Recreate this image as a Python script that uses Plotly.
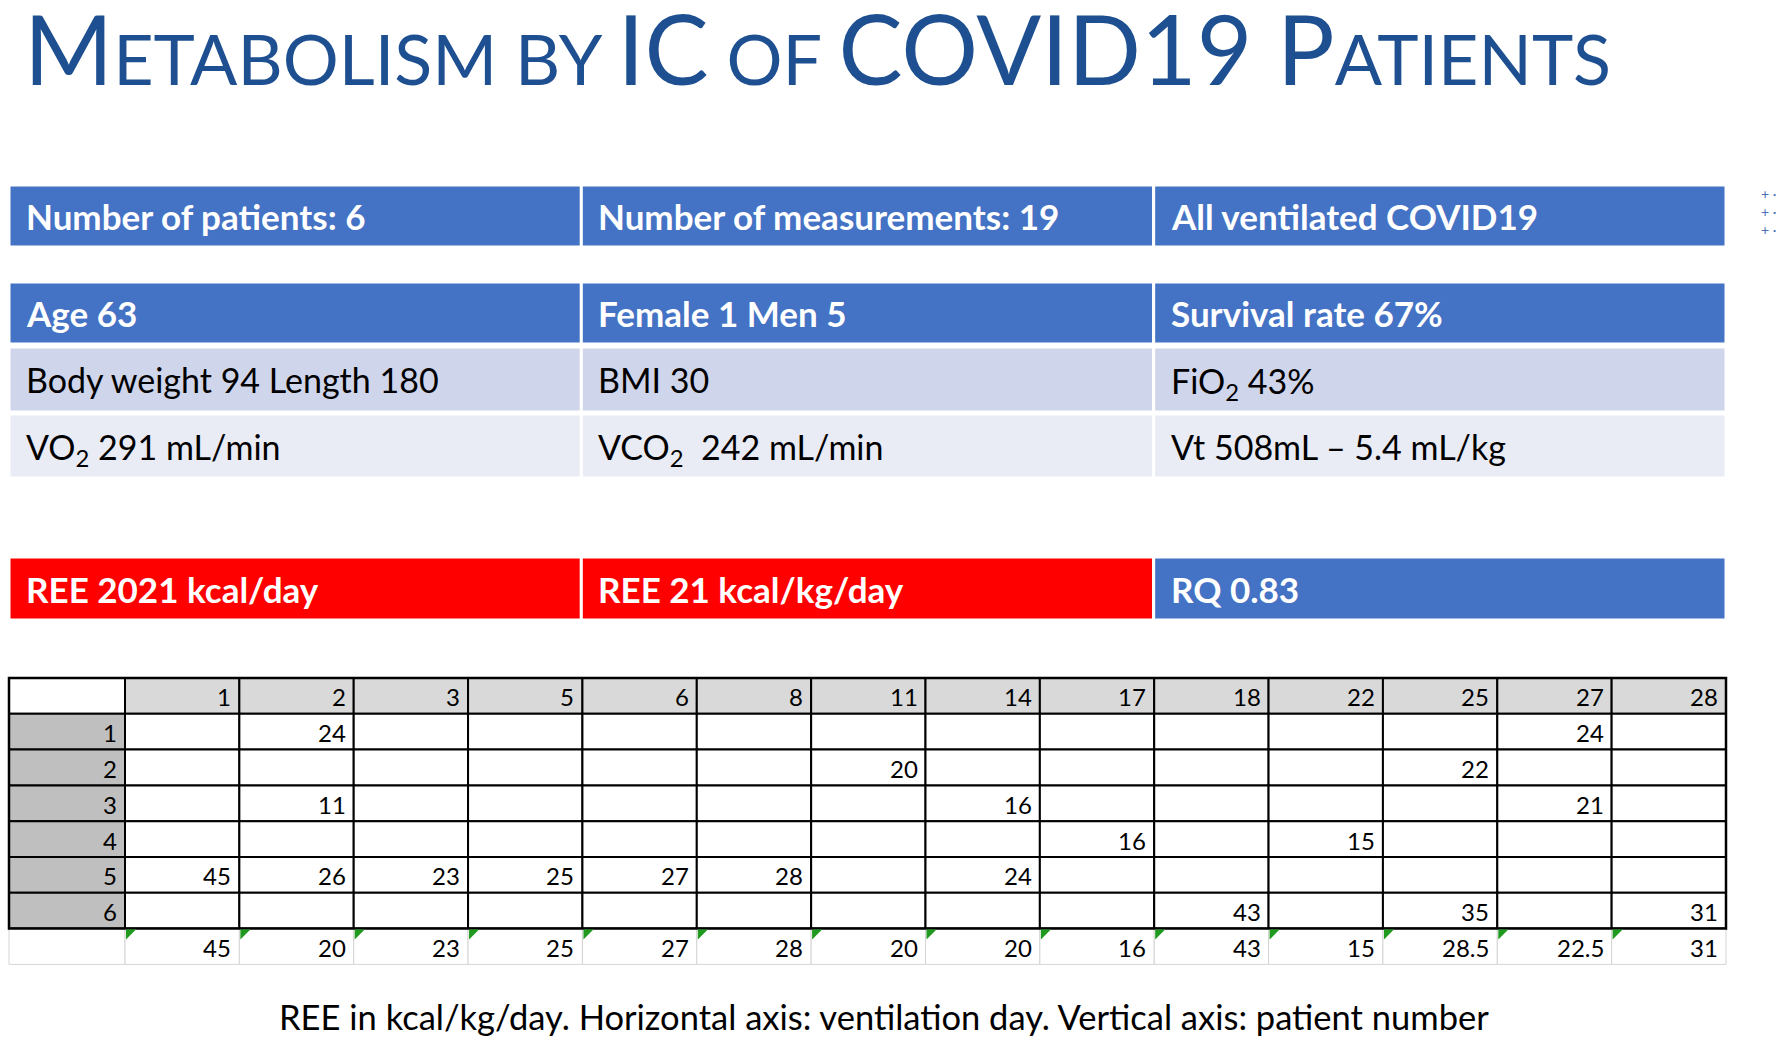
import plotly.graph_objects as go

# ---------------- data ----------------
title_parts = [("M", "big"), ("ETABOLISM BY ", "small"), ("IC", "big"), (" OF ", "small"),
               ("COVID19 ", "big"), ("P", "big"), ("ATIENTS", "small")]

info_row1 = ["Number of patients: 6", "Number of measurements: 19", "All ventilated COVID19"]
info_row2 = ["Age 63", "Female 1 Men 5", "Survival rate 67%"]
info_row3 = ["Body weight 94 Length 180", "BMI 30", "FiO<sub>2</sub> 43%"]
info_row4 = ["VO<sub>2</sub> 291 mL/min", "VCO<sub>2</sub>\u00a0 242 mL/min", "Vt 508mL \u2013 5.4 mL/kg"]
ree_row = ["REE 2021 kcal/day", "REE 21 kcal/kg/day", "RQ 0.83"]
ree_fill = ["#FF0000", "#FF0000", "#4472C4"]

days = [1, 2, 3, 5, 6, 8, 11, 14, 17, 18, 22, 25, 27, 28]
patients = [1, 2, 3, 4, 5, 6]
ree_p1 = [None, 24, None, None, None, None, None, None, None, None, None, None, 24, None]
ree_p2 = [None, None, None, None, None, None, 20, None, None, None, None, 22, None, None]
ree_p3 = [None, 11, None, None, None, None, None, 16, None, None, None, None, 21, None]
ree_p4 = [None, None, None, None, None, None, None, None, 16, None, 15, None, None, None]
ree_p5 = [45, 26, 23, 25, 27, 28, None, 24, None, None, None, None, None, None]
ree_p6 = [None, None, None, None, None, None, None, None, None, 43, None, 35, None, 31]
ree_mean = ["45", "20", "23", "25", "27", "28", "20", "20", "16", "43", "15", "28.5", "22.5", "31"]

caption = "REE in kcal/kg/day. Horizontal axis: ventilation day. Vertical axis: patient number"

# ---------------- layout geometry ----------------
W, H = 1784, 1040
FONT = "Lato"
BLUE = "#4472C4"
TX0, TX1 = 9, 1726
TCW = (TX1 - TX0) / 3
info_rows = [(info_row1, 185, 247, BLUE, "white", "bold", 35),
             (info_row2, 282, 344, BLUE, "white", "bold", 35),
             (info_row3, 347, 412, "#CFD5EA", "black", "normal", 34),
             (info_row4, 414, 478, "#E9EBF5", "black", "normal", 34)]
REE_Y0, REE_Y1 = 557, 620

GX0, GRH = 9, 125
GCW = (TX1 - GRH) / len(days)
GY0 = 678
GRH_H = 35.8

shapes, annots = [], []


def rect(x0, y0, x1, y1, fill, line="white", lw=3):
    shapes.append(dict(type="rect", xref="x", yref="y", x0=x0, y0=y0, x1=x1, y1=y1,
                       fillcolor=fill, line=dict(color=line, width=lw), layer="below"))


def text(x, y, s, size, color="black", weight="normal", xanchor="left"):
    annots.append(dict(x=x, y=y, xref="x", yref="y", text=s, showarrow=False,
                       xanchor=xanchor, yanchor="middle",
                       yshift=-3 if "<sub>" in s else 0,
                       font=dict(family=FONT, size=size, color=color, weight=weight)))


# title
title_html = "".join(
    f"<span style='font-size:{96 if k == 'big' else 70}px'>{t}</span>" for t, k in title_parts)
annots.append(dict(x=22, y=47, xref="x", yref="y", text=title_html, showarrow=False,
                   xanchor="left", yanchor="middle",
                   font=dict(family=FONT, size=96, color="#1D4F91")))

# info tables
for row, y0, y1, fill, fc, fw, fs in info_rows:
    for i, s in enumerate(row):
        x0 = TX0 + i * TCW
        rect(x0, y0, x0 + TCW, y1, fill)
        text(x0 + 15, (y0 + y1) / 2, s, fs, fc, fw)

for i, s in enumerate(ree_row):
    x0 = TX0 + i * TCW
    rect(x0, REE_Y0, x0 + TCW, REE_Y1, ree_fill[i])
    text(x0 + 15, (REE_Y0 + REE_Y1) / 2, s, 35, "white", "bold")

# decorative plus marks at the right edge
text(1759, 211, "<br>".join(["+ \u00b7"] * 3), 14, "#4A6FB5")

# grid table
grid_vals = [ree_p1, ree_p2, ree_p3, ree_p4, ree_p5, ree_p6]
NUM = 24
# header row
rect(GX0, GY0, GRH, GY0 + GRH_H, "white", "black", 2)
for j, d in enumerate(days):
    x0 = GRH + j * GCW
    rect(x0, GY0, x0 + GCW, GY0 + GRH_H, "#D9D9D9", "black", 2)
    text(x0 + GCW - 6, GY0 + GRH_H / 2 + 1, str(d), NUM, xanchor="right")
# patient rows
for r, (p, vals) in enumerate(zip(patients, grid_vals)):
    y0 = GY0 + (r + 1) * GRH_H
    rect(GX0, y0, GRH, y0 + GRH_H, "#BFBFBF", "black", 2)
    text(GRH - 6, y0 + GRH_H / 2 + 1, str(p), NUM, xanchor="right")
    for j, v in enumerate(vals):
        x0 = GRH + j * GCW
        rect(x0, y0, x0 + GCW, y0 + GRH_H, "white", "black", 2)
        if v is not None:
            text(x0 + GCW - 6, y0 + GRH_H / 2 + 1, str(v), NUM, xanchor="right")
# summary row
ys = GY0 + 7 * GRH_H
rect(GX0, ys, GRH, ys + GRH_H, "white", "#D4D4D4", 1)
for j, v in enumerate(ree_mean):
    x0 = GRH + j * GCW
    rect(x0, ys, x0 + GCW, ys + GRH_H, "white", "#D4D4D4", 1)
    text(x0 + GCW - 6, ys + GRH_H / 2 + 1, v, NUM, xanchor="right")
# black outline of grid body above the summary row
shapes.append(dict(type="rect", xref="x", yref="y", x0=GX0, y0=GY0, x1=TX1, y1=ys,
                   fillcolor="rgba(0,0,0,0)", line=dict(color="black", width=2.5), layer="above"))
for j in range(len(ree_mean)):
    x0 = GRH + j * GCW + 1
    shapes.append(dict(type="path", xref="x", yref="y",
                       path=f"M {x0},{ys + 1} L {x0 + 10},{ys + 1} L {x0},{ys + 11} Z",
                       fillcolor="#1F9A1F", line=dict(width=0), layer="above"))

# caption
text(884, 1016, caption, 34.5, "black", "normal", xanchor="center")

fig = go.Figure(go.Scatter(x=[0, W], y=[0, H], mode="markers", marker=dict(opacity=0),
                           hoverinfo="skip", showlegend=False))
fig.update_layout(width=W, height=H, margin=dict(l=0, r=0, t=0, b=0),
                  paper_bgcolor="white", plot_bgcolor="white",
                  xaxis=dict(range=[0, W], visible=False, fixedrange=True),
                  yaxis=dict(range=[H, 0], visible=False, fixedrange=True),
                  shapes=shapes, annotations=annots, showlegend=False)
fig.write_html("out.html", config={"displayModeBar": False},
               post_script="document.body.style.margin='0';")
